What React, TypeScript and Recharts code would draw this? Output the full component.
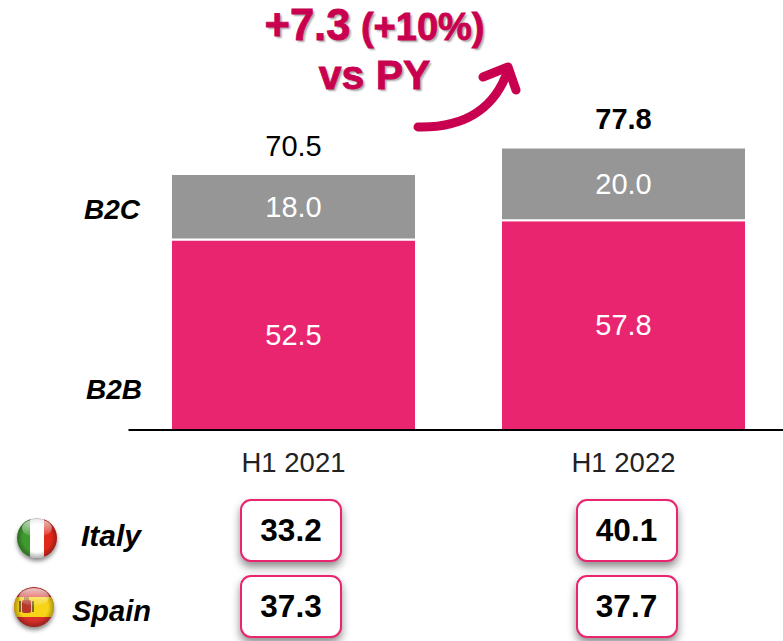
import { BarChart, Bar, XAxis, YAxis, LabelList } from 'recharts'

const periods = ['H1 2021', 'H1 2022']
const b2bValues = [52.5, 57.8]
const b2cValues = [18.0, 20.0]
const totals = [70.5, 77.8]
const italyValues = [33.2, 40.1]
const spainValues = [37.3, 37.7]

const chartData = periods.map((period, i) => ({
  period,
  b2b: b2bValues[i],
  b2c: b2cValues[i],
}))

const ARIAL = '"Liberation Sans", Arial, sans-serif'
const PINK = '#EA2570'
const GREY = '#969696'
const HEADLINE = '#C8004F'
const boxLefts = [240, 575.5]

function TotalLabel(props: any) {
  const { x, y, width, index } = props
  return (
    <text
      x={x + width / 2}
      y={y - 18.5}
      textAnchor="middle"
      fontSize={29}
      fontFamily={ARIAL}
      fontWeight={index === 1 ? 700 : 400}
      fill="#000"
    >
      {totals[index].toFixed(1)}
    </text>
  )
}

function ValueBox({ left, top, value }: { left: number; top: number; value: number }) {
  return (
    <div
      style={{
        position: 'absolute',
        left,
        top,
        width: 98,
        height: 59,
        border: `2px solid ${PINK}`,
        borderRadius: 11,
        background: '#fff',
        boxShadow: '0 5px 8px rgba(0,0,0,0.45)',
        fontFamily: ARIAL,
        fontWeight: 700,
        fontSize: 31.5,
        lineHeight: '59px',
        textAlign: 'center',
        color: '#000',
      }}
    >
      {value.toFixed(1)}
    </div>
  )
}

function SideLabel({ left, top, size, children }: { left: number; top: number; size: number; children: string }) {
  return (
    <div
      style={{
        position: 'absolute',
        left,
        top,
        fontFamily: ARIAL,
        fontWeight: 700,
        fontStyle: 'italic',
        fontSize: size,
        lineHeight: '32px',
        color: '#000',
      }}
    >
      {children}
    </div>
  )
}

function Flags() {
  return (
    <svg width={783} height={641} style={{ position: 'absolute', left: 0, top: 0, pointerEvents: 'none' }}>
      <defs>
        <clipPath id="italyClip"><circle cx={37} cy={538} r={20} /></clipPath>
        <clipPath id="spainClip"><circle cx={34} cy={607} r={20} /></clipPath>
        <linearGradient id="topGloss" x1="0" y1="0" x2="0" y2="1">
          <stop offset="0%" stopColor="#fff" stopOpacity={0.75} />
          <stop offset="100%" stopColor="#fff" stopOpacity={0.05} />
        </linearGradient>
        <radialGradient id="edge" cx="50%" cy="50%" r="50%">
          <stop offset="70%" stopColor="#000" stopOpacity={0} />
          <stop offset="100%" stopColor="#000" stopOpacity={0.3} />
        </radialGradient>
        <filter id="flagShadow" x="-30%" y="-30%" width="160%" height="170%">
          <feGaussianBlur stdDeviation={2} />
        </filter>
      </defs>
      <circle cx={37} cy={541} r={20} fill="#888" filter="url(#flagShadow)" />
      <g clipPath="url(#italyClip)">
        <rect x={17} y={518} width={14} height={40} fill="#3F9A2E" />
        <rect x={30} y={518} width={15} height={40} fill="#FFFFFF" />
        <rect x={44} y={518} width={14} height={40} fill="#E0281A" />
        <circle cx={37} cy={538} r={20} fill="url(#edge)" />
        <ellipse cx={37} cy={528} rx={15} ry={9} fill="url(#topGloss)" />
      </g>
      <circle cx={34} cy={610} r={20} fill="#888" filter="url(#flagShadow)" />
      <g clipPath="url(#spainClip)">
        <rect x={14} y={587} width={40} height={40} fill="#D8302A" />
        <rect x={14} y={597} width={40} height={20} fill="#F7D417" />
        <rect x={22} y={600} width={9} height={13} rx={2} fill="#B5382A" />
        <rect x={24} y={597} width={5} height={3} fill="#A8772A" />
        <rect x={19} y={601} width={2} height={11} fill="#7A6A2A" />
        <rect x={32} y={601} width={2} height={11} fill="#7A6A2A" />
        <circle cx={34} cy={607} r={20} fill="url(#edge)" />
        <ellipse cx={34} cy={597} rx={15} ry={9} fill="url(#topGloss)" />
      </g>
    </svg>
  )
}

function GrowthArrow() {
  return (
    <svg width={783} height={641} style={{ position: 'absolute', left: 0, top: 0, pointerEvents: 'none' }}>
      <path
        d="M418 127 C 460 128, 494 112, 508 70"
        fill="none"
        stroke={HEADLINE}
        strokeWidth={9}
        strokeLinecap="round"
      />
      <path
        d="M483 77 L508 67 L516 90"
        fill="none"
        stroke={HEADLINE}
        strokeWidth={9}
        strokeLinecap="round"
        strokeLinejoin="round"
      />
    </svg>
  )
}

export default function App() {
  return (
    <div style={{ position: 'absolute', left: 0, top: 0, width: 783, height: 641, overflow: 'hidden', background: '#fff' }}>
      <BarChart
        width={790}
        height={500}
        data={chartData}
        barCategoryGap={42.5}
        margin={{ top: 67, right: 1.5, left: 128.5, bottom: 0 }}
      >
        <YAxis hide domain={[0, 100]} />
        <XAxis
          dataKey="period"
          height={70}
          axisLine={{ stroke: '#000', strokeWidth: 2 }}
          tickLine={false}
          tick={{ fontSize: 27.5, fontFamily: ARIAL, fill: '#222', dy: 14 }}
        />
        <Bar dataKey="b2b" stackId="a" fill={PINK} stroke="#fff" strokeWidth={2} isAnimationActive={false}>
          <LabelList dataKey="b2b" position="center" fill="#fff" fontSize={29} fontFamily={ARIAL} formatter={(v: any) => v.toFixed(1)} />
        </Bar>
        <Bar dataKey="b2c" stackId="a" fill={GREY} stroke="#fff" strokeWidth={2} isAnimationActive={false}>
          <LabelList dataKey="b2c" position="center" fill="#fff" fontSize={29} fontFamily={ARIAL} formatter={(v: any) => v.toFixed(1)} />
          <LabelList dataKey="b2c" content={TotalLabel} />
        </Bar>
      </BarChart>

      <SideLabel left={84} top={194} size={28}>B2C</SideLabel>
      <SideLabel left={86} top={374} size={28}>B2B</SideLabel>
      <SideLabel left={81} top={520} size={30}>Italy</SideLabel>
      <SideLabel left={72} top={595} size={29}>Spain</SideLabel>

      <div
        style={{
          position: 'absolute',
          left: 201.5,
          top: 2,
          width: 346,
          textAlign: 'center',
          fontFamily: ARIAL,
          fontWeight: 700,
          color: HEADLINE,
          WebkitTextStroke: `0.8px ${HEADLINE}`,
          textShadow: '2px 2px 2px rgba(0,0,0,0.35)',
        }}
      >
        <div style={{ fontSize: 38, lineHeight: '46px' }}>
          <span style={{ fontSize: 43.5 }}>+7.3</span> (+10%)
        </div>
        <div style={{ fontSize: 41, lineHeight: '50px' }}>vs PY</div>
      </div>

      <GrowthArrow />
      <Flags />

      {boxLefts.map((left, i) => (
        <ValueBox key={`it-${i}`} left={left} top={499} value={italyValues[i]} />
      ))}
      {boxLefts.map((left, i) => (
        <ValueBox key={`es-${i}`} left={left} top={575} value={spainValues[i]} />
      ))}
    </div>
  )
}
